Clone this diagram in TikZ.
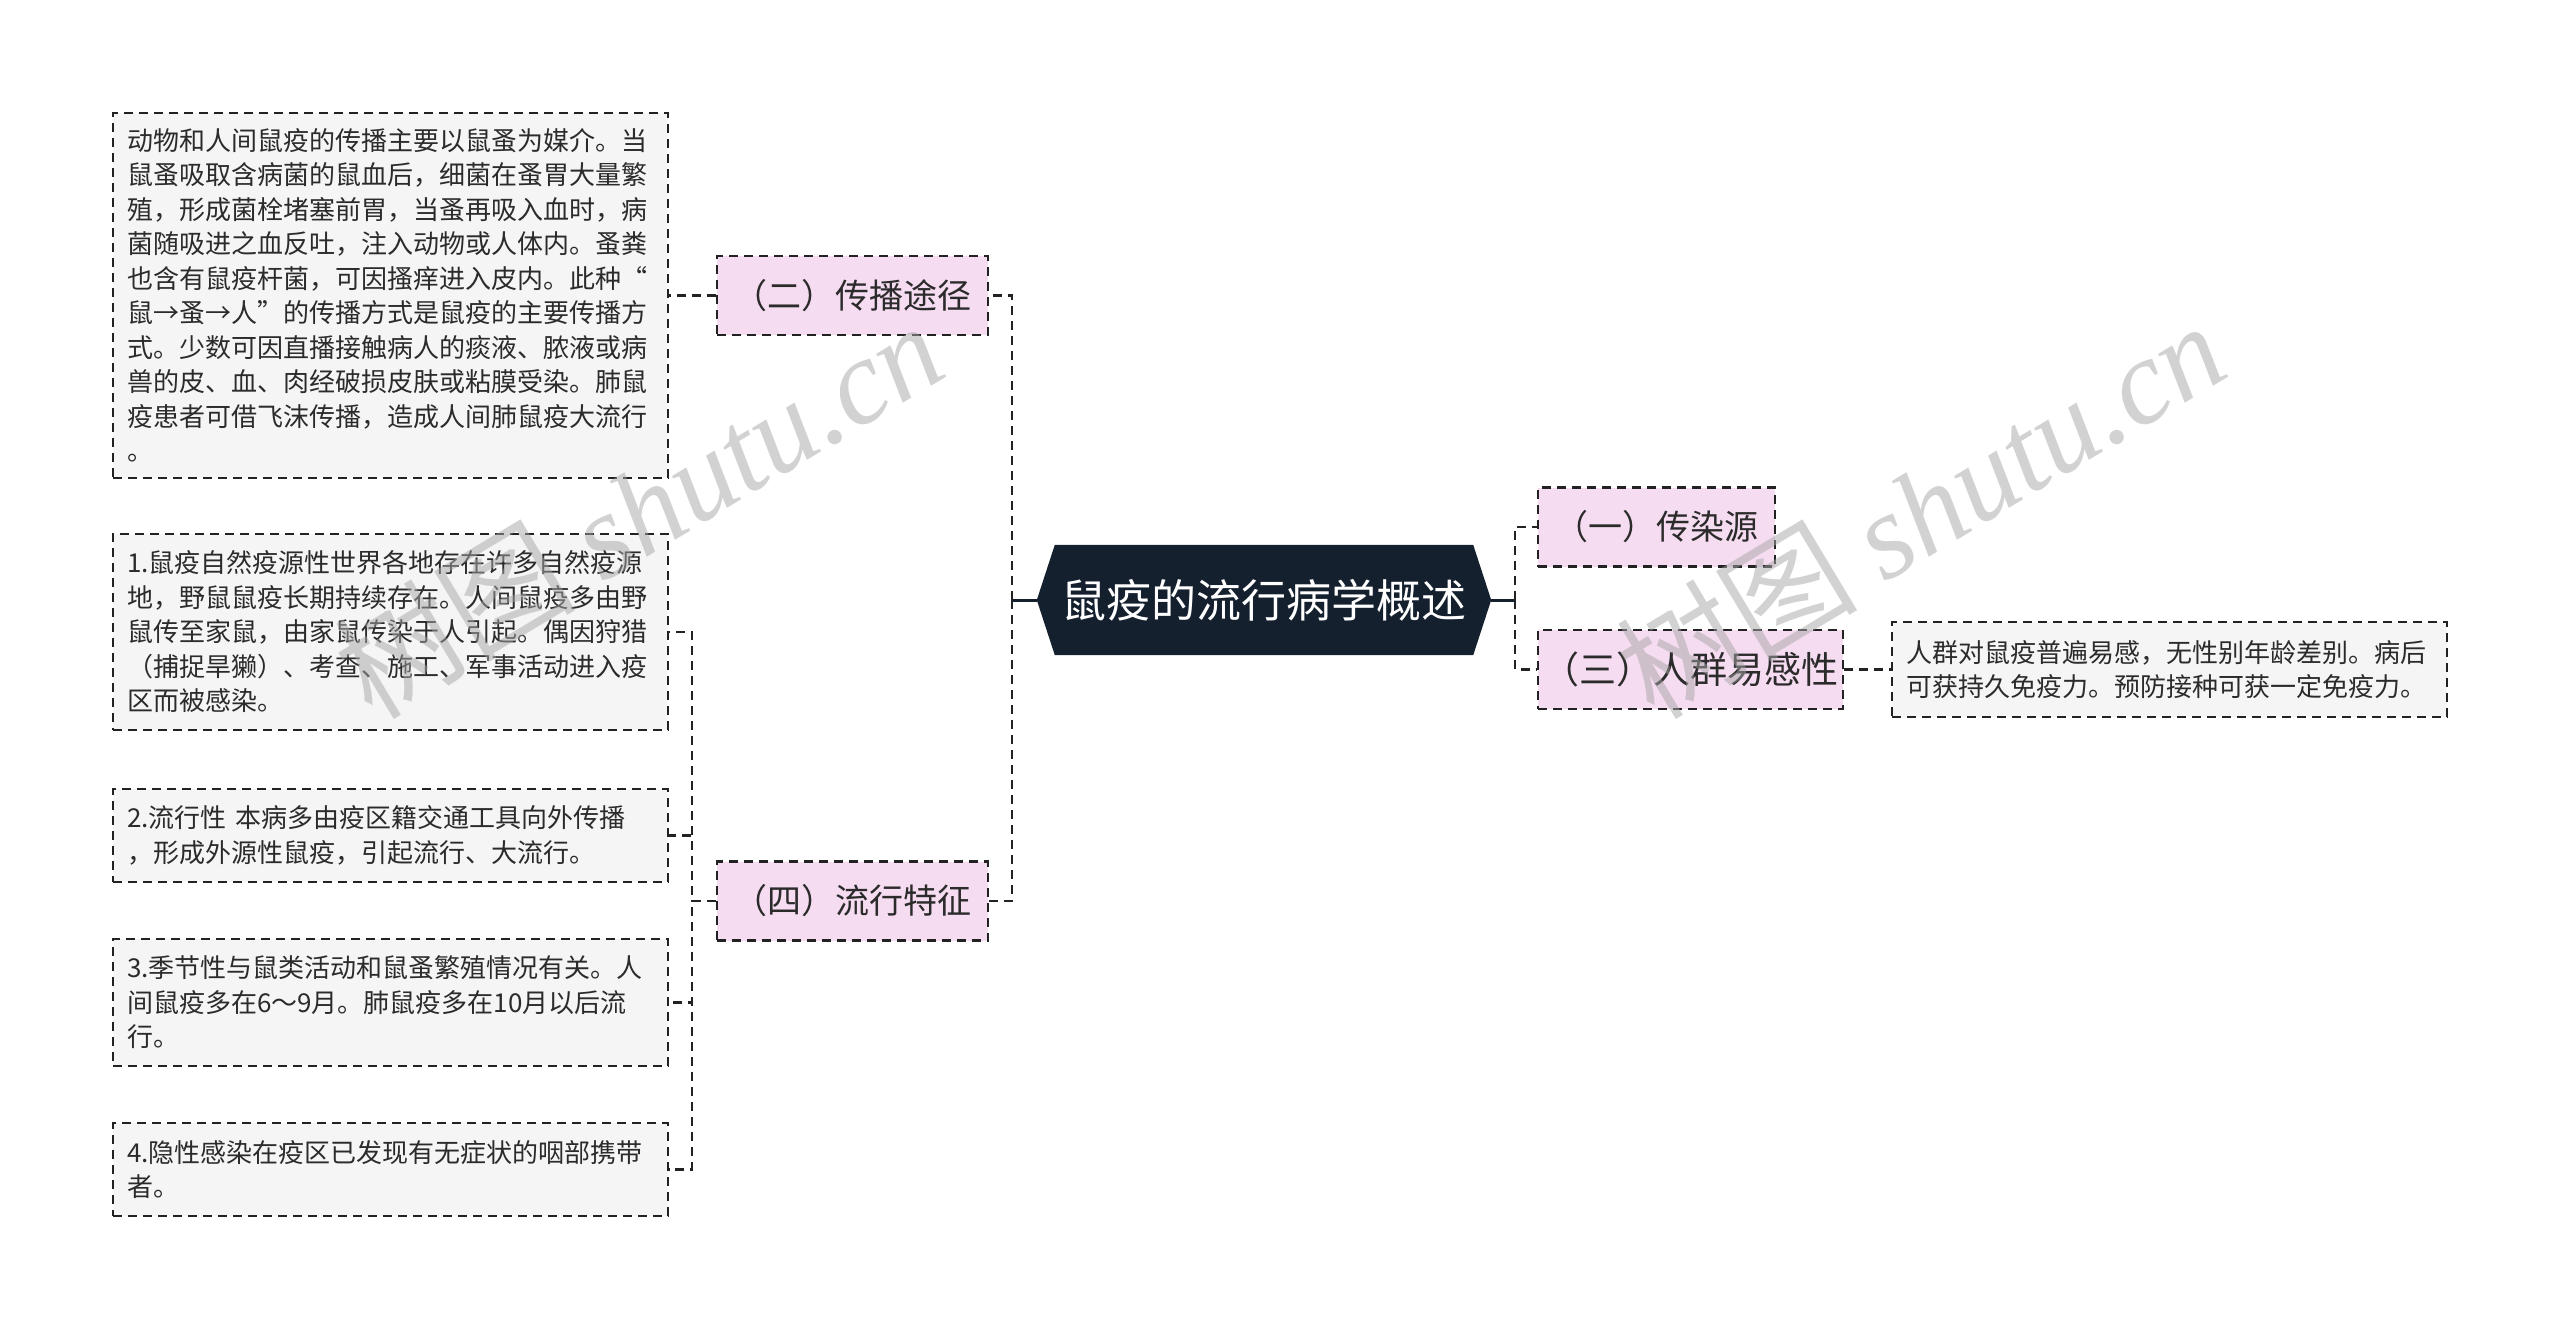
\documentclass[tikz,border=0pt]{standalone}
\usepackage{fontspec}
\newfontfamily\cjk{Noto Sans CJK SC}
\newfontfamily\wmserif{Liberation Serif}
\usetikzlibrary{backgrounds}
\definecolor{boxgray}{HTML}{F5F5F5}
\definecolor{pinkfill}{HTML}{F5DCF0}
\definecolor{navy}{HTML}{15202F}
\definecolor{txt}{HTML}{2B2B2B}
\definecolor{edge}{HTML}{222222}
\tikzset{
  detail/.style={draw=edge, line width=2.2pt, dash pattern=on 9pt off 6pt, fill=boxgray,
    align=left, inner xsep=14pt, inner ysep=0pt, text=txt,
    font=\cjk\fontsize{26}{34.5}\selectfont, text width=527pt, minimum width=555pt},
  topic/.style={draw=edge, line width=2.2pt, dash pattern=on 9pt off 6pt, fill=pinkfill,
    inner xsep=0pt, inner ysep=0pt, text=txt, font=\cjk\fontsize{34}{40}\selectfont, minimum height=79pt},
  link/.style={draw=edge, line width=2.8pt, dash pattern=on 9pt off 6pt},
  solidlink/.style={draw=navy, line width=3pt},
  wm/.style={text=gray!70, text opacity=0.5, inner sep=0pt, rotate=31,
    font=\fontsize{121}{121}\selectfont},
}
\begin{document}
\begin{tikzpicture}[x=1pt,y=-1pt]
\useasboundingbox (0,0) rectangle (2560,1331);

% root
\node[minimum width=454pt, minimum height=110pt, inner sep=0pt, text=white,
      font=\cjk\fontsize{45}{50}\selectfont] (root) at (1264,600) {鼠疫的流行病学概述};
\begin{scope}[on background layer]
\fill[white] (0,0) rectangle (2560,1331);
\fill[navy] ([xshift=18pt]root.north west) -- ([xshift=-18pt]root.north east) -- (root.east)
  -- ([xshift=-18pt]root.south east) -- ([xshift=18pt]root.south west) -- (root.west) -- cycle;
\end{scope}

% main topics
\node[topic, minimum width=271pt] (n2) at (852.5,295.5) {（二）传播途径};
\node[topic, minimum width=271pt] (n4) at (852.5,901) {（四）流行特征};
\node[topic, minimum width=237pt] (n1) at (1656.5,527) {（一）传染源};
\node[topic, minimum width=305pt, font=\cjk\fontsize{37}{44}\selectfont] (n3) at (1690.5,669.5) {（三）人群易感性};

% details
\node[detail, minimum height=365pt] (dA) at (390.5,295.5) {动物和人间鼠疫的传播主要以鼠蚤为媒介。当\\鼠蚤吸取含病菌的鼠血后，细菌在蚤胃大量繁\\殖，形成菌栓堵塞前胃，当蚤再吸入血时，病\\菌随吸进之血反吐，注入动物或人体内。蚤粪\\也含有鼠疫杆菌，可因搔痒进入皮内。此种“\\鼠→蚤→人”的传播方式是鼠疫的主要传播方\\式。少数可因直播接触病人的痰液、脓液或病\\兽的皮、血、肉经破损皮肤或粘膜受染。肺鼠\\疫患者可借飞沫传播，造成人间肺鼠疫大流行\\。};
\node[detail, minimum height=196pt] (dB) at (390.5,632) {1.鼠疫自然疫源性世界各地存在许多自然疫源\\地，野鼠鼠疫长期持续存在。人间鼠疫多由野\\鼠传至家鼠，由家鼠传染于人引起。偶因狩猎\\（捕捉旱獭）、考查、施工、军事活动进入疫\\区而被感染。};
\node[detail, minimum height=93pt] (dC) at (390.5,835.5) {2.流行性 本病多由疫区籍交通工具向外传播\\，形成外源性鼠疫，引起流行、大流行。};
\node[detail, minimum height=127pt] (dD) at (390.5,1002.5) {3.季节性与鼠类活动和鼠蚤繁殖情况有关。人\\间鼠疫多在6～9月。肺鼠疫多在10月以后流\\行。};
\node[detail, minimum height=93pt] (dE) at (390.5,1169.5) {4.隐性感染在疫区已发现有无症状的咽部携带\\者。};
\node[detail, minimum height=95pt] (dF) at (2169.5,669.5) {人群对鼠疫普遍易感，无性别年龄差别。病后\\可获持久免疫力。预防接种可获一定免疫力。};

% connectors
\coordinate (tl) at (1012,600);
\coordinate (tr) at (1515,600);
\coordinate (t4) at (692,901);
\draw[solidlink] (root.west) -- (tl);
\draw[solidlink] (root.east) -- (tr);
\draw[link] (tl) |- (n2.east);
\draw[link] (tl) |- (n4.east);
\draw[link] (tr) |- (n1.west);
\draw[link] (tr) |- (n3.west);
\draw[link] (n2.west) -- (dA.east);
\draw[link] (n3.east) -- (dF.west);
\draw[link] (n4.west) -- (t4) |- (dB.east);
\draw[link] (n4.west) -- (t4) |- (dC.east);
\draw[link] (n4.west) -- (t4) |- (dD.east);
\draw[link] (n4.west) -- (t4) |- (dE.east);

% watermarks
\node[wm, anchor=base west] (wm1) at (372,722) {\cjk 树图\ \wmserif\itshape shutu.cn};
\node[wm, anchor=base west] (wm2) at (1654,722) {\cjk 树图\ \wmserif\itshape shutu.cn};
\end{tikzpicture}
\end{document}
